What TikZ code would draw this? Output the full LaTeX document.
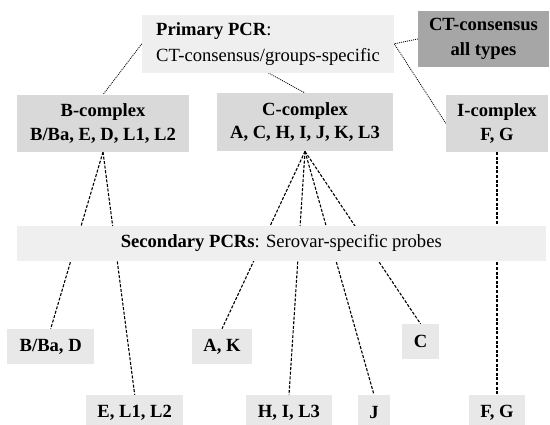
\documentclass[tikz,border=0pt]{standalone}
\usepackage{fontspec}
\setmainfont{Liberation Serif}[BoldFont={* Bold}]
\usetikzlibrary{backgrounds}
\definecolor{paleGray}{HTML}{EFEFEF}
\definecolor{leafGray}{HTML}{E8E8E8}
\definecolor{cplxGray}{HTML}{D9D9D9}
\definecolor{darkGray}{HTML}{A6A6A6}
\tikzset{
  box/.style={rectangle, inner sep=0pt, align=center,
    font=\fontsize{18.6}{24}\selectfont},
  primbox/.style={box, fill=paleGray, align=left, font=\fontsize{18.6}{26}\selectfont},
  secbox/.style={box, fill=paleGray},
  cplxbox/.style={box, fill=cplxGray, font=\fontsize{18.6}{23.4}\selectfont\bfseries},
  allbox/.style={box, fill=darkGray, font=\fontsize{18.6}{25}\selectfont\bfseries},
  leafbox/.style={box, fill=leafGray, font=\fontsize{18.6}{23}\selectfont\bfseries},
  fineline/.style={line width=0.8pt, dash pattern=on 1pt off 1pt},
  probeline/.style={line width=1.1pt, dash pattern=on 3pt off 1.6pt},
}
\begin{document}
\begin{tikzpicture}[x=1pt, y=-1pt]
\useasboundingbox (0,0) rectangle (550,425);

% first-round PCR
\node[primbox, minimum width=252, minimum height=57.5] (prim) at (268,43.8)
  {\textbf{Primary PCR}:\\CT-consensus/groups-specific};
\node[allbox, minimum width=131, minimum height=56] (ct) at (483.5,39)
  {CT-consensus\\all types};

% complexes
\node[cplxbox, minimum width=172, minimum height=57] (bcx) at (103,123.3)
  {B-complex\\B/Ba, E, D, L1, L2};
\node[cplxbox, minimum width=176, minimum height=58] (ccx) at (305,122.2)
  {C-complex\\A, C, H, I, J, K, L3};
\node[cplxbox, minimum width=102, minimum height=57] (icx) at (497,123.3)
  {I-complex\\F, G};

% second-round PCRs
\node[secbox, minimum width=529, minimum height=35] (sec) at (281.3,243.4)
  {\textbf{Secondary PCRs}: Serovar-specific probes};

% serovar groups
\node[leafbox, minimum width=87, minimum height=35] (bbd) at (50.7,346.5) {B/Ba, D};
\node[leafbox, minimum width=60.7, minimum height=35] (ak) at (222,346.5) {A, K};
\node[leafbox, minimum width=36.7, minimum height=34.7] (cc) at (420.7,341.7) {C};
\node[leafbox, minimum width=97, minimum height=35] (el) at (134.7,412.5) {E, L1, L2};
\node[leafbox, minimum width=86, minimum height=35] (hil) at (289,412.5) {H, I, L3};
\node[leafbox, minimum width=32, minimum height=35] (jj) at (374,412.5) {J};
\node[leafbox, minimum width=56, minimum height=35] (fg) at (497,412.5) {F, G};

\begin{scope}[on background layer]
  \draw[fineline] (ct.west) -- (prim.east);
  \draw[fineline] (prim.west) -- (bcx.north);
  \draw[fineline] (prim.south) -- (ccx.north);
  \draw[fineline] (prim.east) -- (icx.west);

  \draw[probeline] (bcx.south) -- (bbd.north);
  \draw[probeline] (bcx.south) -- (el.north);
  \draw[probeline] (ccx.south) -- (ak.north);
  \draw[probeline] (ccx.south) -- (hil.north);
  \draw[probeline] (ccx.south) -- (jj.north);
  \draw[probeline] (ccx.south) -- (cc.north);
  \draw[probeline] (icx.south) -- (fg.north);
\end{scope}
\end{tikzpicture}
\end{document}
